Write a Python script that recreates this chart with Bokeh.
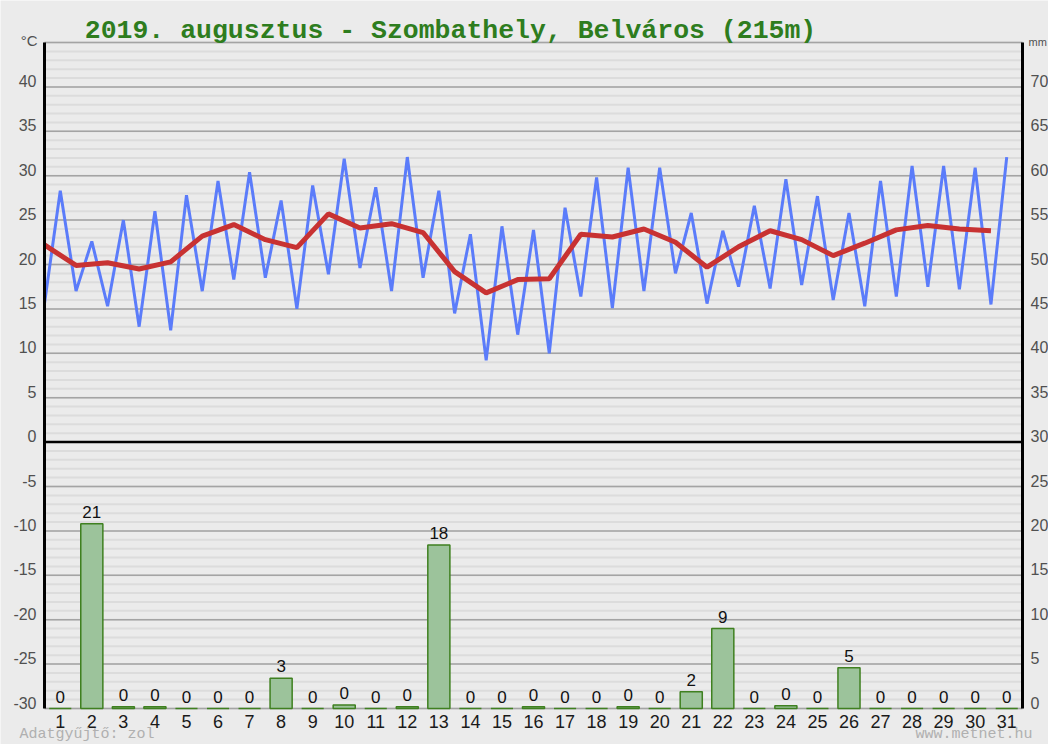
from bokeh.plotting import figure
from bokeh.models import ColumnDataSource, LabelSet, Label, Range1d
from bokeh.core.properties import value
from bokeh.embed import file_html
from bokeh.resources import INLINE

# ---------------- data ----------------
days = list(range(1, 32))
t_min = [15.6, 17.0, 15.3, 13.0, 12.6, 17.0, 18.3, 18.5, 15.0, 18.9,
         19.6, 17.0, 18.5, 14.5, 9.2, 12.1, 10.0, 16.4, 15.1, 17.0,
         19.0, 15.6, 17.5, 17.3, 17.7, 16.0, 15.3, 16.4, 17.5, 17.2, 15.5]
t_max = [28.3, 22.6, 25.0, 26.0, 27.8, 29.4, 30.4, 27.2, 28.9, 31.9,
         28.7, 32.1, 28.3, 23.4, 24.3, 23.9, 26.4, 29.8, 30.9, 30.9,
         25.8, 23.8, 26.6, 29.6, 27.7, 25.8, 29.4, 31.1, 31.1, 30.9, 32.1]
t_mean = [22.2, 19.9, 20.2, 19.5, 20.3, 23.2, 24.5, 22.8, 21.9, 25.7,
          24.1, 24.6, 23.6, 19.2, 16.8, 18.3, 18.4, 23.4, 23.1, 24.0,
          22.5, 19.7, 22.0, 23.8, 22.8, 21.0, 22.4, 23.9, 24.4, 24.0, 23.8]
precip = [0, 20.8, 0.2, 0.2, 0, 0, 0, 3.4, 0, 0.4,
          0, 0.2, 18.4, 0, 0, 0.2, 0, 0, 0.2, 0,
          1.9, 9.0, 0, 0.3, 0, 4.6, 0, 0, 0, 0, 0]
precip_labels = ["0", "21", "0", "0", "0", "0", "0", "3", "0", "0",
                 "0", "0", "18", "0", "0", "0", "0", "0", "0", "0",
                 "2", "9", "0", "0", "0", "5", "0", "0", "0", "0", "0"]
temp_ticks = [40, 35, 30, 25, 20, 15, 10, 5, 0, -5, -10, -15, -20, -25, -30]
mm_ticks = [70, 65, 60, 55, 50, 45, 40, 35, 30, 25, 20, 15, 10, 5, 0]
minor_ticks = list(range(-30, 46))
title_text = "2019. augusztus - Szombathely, Belváros (215m)"

# ---------------- layout (canvas pixels) ----------------
W, H = 1048, 744
L, R, T, B = 44, 1022, 42, 708          # plot area inside the canvas
X0, X1 = 0.5, 31.5                       # day range of the plot area
Y0, Y1 = -30.0, 45.0                     # temperature range of the plot area
MM_OFF = 30.0                            # mm = temperature + 30
kx = (X1 - X0) / (R - L)
ky = (Y1 - Y0) / (B - T)
xr = (X0 - L * kx, X1 + (W - R) * kx)
yr = (Y0 - (H - B) * ky, Y1 + T * ky)

BG = "#ebebeb"
p = figure(width=W, height=H, x_range=Range1d(*xr), y_range=Range1d(*yr),
           x_axis_type=None, y_axis_type=None, output_backend="svg", toolbar_location=None,
           min_border=0, background_fill_color=BG, border_fill_color=BG)
p.extra_y_ranges = {"mm": Range1d(yr[0] + MM_OFF, yr[1] + MM_OFF)}
p.outline_line_color = None
p.xgrid.visible = False
p.ygrid.visible = False

FONT = value("Liberation Sans")

# grid lines
p.segment(x0=X0, x1=X1, y0=minor_ticks, y1=minor_ticks, line_color="#dcdcdc", line_width=2)
p.segment(x0=X0, x1=X1, y0=temp_ticks + [Y1], y1=temp_ticks + [Y1], line_color="#a4a4a4", line_width=1.5)
p.segment(x0=X0, x1=X1, y0=0, y1=0, line_color="black", line_width=2.5)

# precipitation bars
bsrc = ColumnDataSource(dict(x=days, top=precip, lab=precip_labels))
p.vbar(x="x", top="top", bottom=0, width=0.7, source=bsrc, y_range_name="mm",
       fill_color="#9cc39b", line_color="#3f8020", line_width=1.5)
p.add_layout(LabelSet(x="x", y="top", text="lab", source=bsrc, y_range_name="mm",
                      y_offset=6, text_align="center", text_baseline="alphabetic",
                      text_font=FONT, text_font_size="17px", text_color="#111111"))

# temperature lines
zx, zy = [], []
for d, lo, hi in zip(days, t_min, t_max):
    zx += [d - 0.5, d]
    zy += [lo, hi]
p.line(zx, zy, line_color="#5b7cfa", line_width=3)
p.line([d - 0.5 for d in days], t_mean, line_color="#c83232", line_width=5)

# axis lines
p.segment(x0=[X0, X1], x1=[X0, X1], y0=Y0, y1=Y1, line_color="black", line_width=3)

# tick labels
lsrc = ColumnDataSource(dict(x=[X0] * len(temp_ticks), y=temp_ticks, t=[str(v) for v in temp_ticks]))
p.add_layout(LabelSet(x="x", y="y", text="t", source=lsrc, x_offset=-8, text_align="right",
                      text_baseline="alphabetic", text_font=FONT,
                      text_font_size="16px", text_color="#505050"))
rsrc = ColumnDataSource(dict(x=[X1] * len(mm_ticks), y=mm_ticks, t=[str(v) for v in mm_ticks]))
p.add_layout(LabelSet(x="x", y="y", text="t", source=rsrc, y_range_name="mm", x_offset=8,
                      text_align="left", text_baseline="alphabetic", text_font=FONT,
                      text_font_size="16px", text_color="#505050"))
xsrc = ColumnDataSource(dict(x=days, y=[0] * len(days), t=[str(d) for d in days]))
p.add_layout(LabelSet(x="x", y="y", text="t", source=xsrc, y_range_name="mm", y_offset=-19,
                      text_align="center", text_baseline="alphabetic", text_font=FONT,
                      text_font_size="18px", text_color="#1a1a1a"))

# texts (screen units: from canvas left / canvas bottom)
p.add_layout(Label(x=450, y=H - 30, x_units="screen", y_units="screen", text=title_text,
                   text_align="center", text_baseline="alphabetic", text_font="Liberation Mono",
                   text_font_style="bold", text_font_size="26.5px", text_color="#2e7d1e"))
p.add_layout(Label(x=37, y=H - 40, x_units="screen", y_units="screen", text="°C",
                   text_align="right", text_baseline="alphabetic", text_font="Liberation Sans",
                   text_font_size="15px", text_color="#505050"))
p.add_layout(Label(x=1028, y=H - 41, x_units="screen", y_units="screen", text="mm",
                   text_align="left", text_baseline="alphabetic", text_font="Liberation Sans",
                   text_font_size="11px", text_color="#505050"))
p.add_layout(Label(x=19, y=10, x_units="screen", y_units="screen", text="Adatgyűjtő: zol",
                   text_align="left", text_baseline="alphabetic", text_font="Liberation Mono",
                   text_font_size="15px", text_color="#b0b0b0"))
p.add_layout(Label(x=1032, y=10, x_units="screen", y_units="screen", text="www.metnet.hu",
                   text_align="right", text_baseline="alphabetic", text_font="Liberation Mono",
                   text_font_size="15px", text_color="#b0b0b0"))

open("out.html", "w").write(file_html(p, INLINE))
